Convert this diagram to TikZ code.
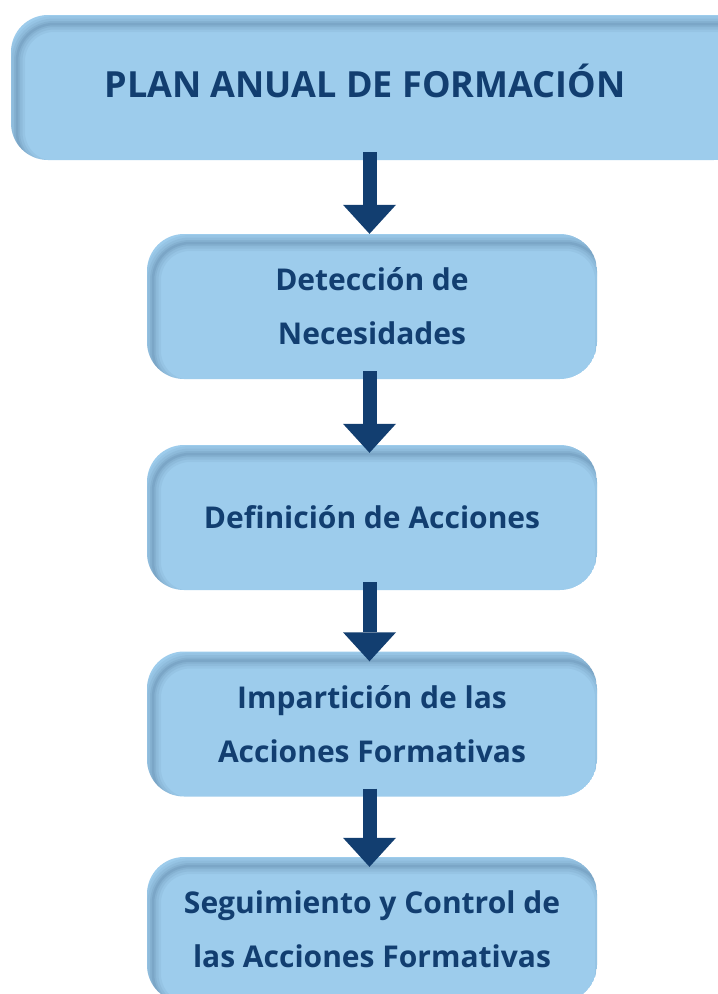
\documentclass[tikz,border=0pt]{standalone}
\usepackage{fontspec}
\setmainfont{Open Sans}
\usetikzlibrary{arrows.meta,calc}
\definecolor{boxblue}{RGB}{157,204,236}
\definecolor{shadowblue}{RGB}{90,130,165}
\definecolor{txtblue}{RGB}{18,62,112}
\tikzset{
  flowbox/.style={rounded corners=37pt, minimum width=450pt, minimum height=145pt,
    inner sep=0pt, align=center, text=txtblue,
    font=\bfseries\fontsize{30pt}{54pt}\selectfont,
    path picture={
      \fill[boxblue] (path picture bounding box.south west) rectangle (path picture bounding box.north east);
      \foreach \w/\o in {16/0.1, 11/0.13, 6/0.17, 2.5/0.22}
        \draw[shadowblue, opacity=\o, line width=\w pt, rounded corners=37pt]
          ([shift={(6pt,-9pt)}]path picture bounding box.south west) rectangle
          ([shift={(6pt,-9pt)}]path picture bounding box.north east);
    }},
  conn/.style={draw=txtblue, line width=14pt,
    -{Triangle[width=53pt,length=29pt,line width=0pt,fill=txtblue]}}
}
\begin{document}
\begin{tikzpicture}[x=1pt,y={(0pt,-1pt)}]
\clip (0,0) rectangle (718,994);
\fill[white] (0,0) rectangle (718,994);
\node[flowbox, minimum width=740pt, text height=19pt, text depth=0pt, font=\bfseries\fontsize{36pt}{44pt}\selectfont] (plan) at (381,87.5) {\hspace*{-32pt}PLAN ANUAL DE FORMACIÓN};
\node[flowbox] (det) at (372,306.5) {Detección de\\Necesidades};
\node[flowbox, text height=21pt, text depth=0pt] (def) at (372,517.5) {Definición de Acciones};
\node[flowbox] (imp) at (372,724) {Impartición de las\\Acciones Formativas};
\node[flowbox] (seg) at (372,929.5) {Seguimiento y Control de\\las Acciones Formativas};
\draw[conn] ([xshift=-2.5pt,yshift=8pt]det.north |- plan.south) -- ([xshift=-2.5pt]det.north);
\draw[conn] ([xshift=-2.5pt,yshift=8pt]det.south) -- ([xshift=-2.5pt,yshift=-8pt]def.north);
\draw[conn] ([xshift=-2.5pt,yshift=8pt]def.south) -- ([xshift=-2.5pt,yshift=-10pt]imp.north);
\draw[conn] ([xshift=-2.5pt,yshift=8pt]imp.south) -- ([xshift=-2.5pt,yshift=-10pt]seg.north);
\end{tikzpicture}
\end{document}
